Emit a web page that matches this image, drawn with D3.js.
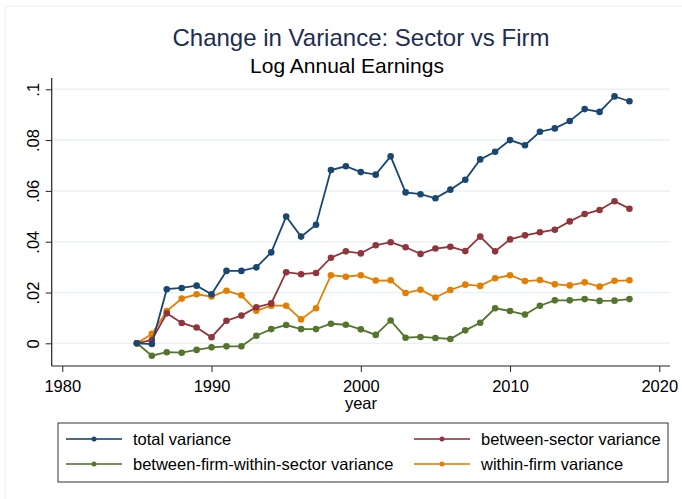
<!DOCTYPE html>
<html>
<head>
<meta charset="utf-8">
<script src="https://cdn.jsdelivr.net/npm/d3@7"></script>
<style>
  body { margin: 0; background: #fff; }
  svg { font-family: "Liberation Sans", Arial, Helvetica, sans-serif; }
</style>
</head>
<body>
<div id="chart"></div>
<script>
var years = d3.range(1985, 2019);

var totalVar = [0, -0.0003, 0.0213, 0.0218, 0.0227, 0.0193, 0.0285, 0.0285, 0.0299, 0.0358,
    0.0499, 0.0420, 0.0467, 0.0682, 0.0697, 0.0674, 0.0664, 0.0736, 0.0594, 0.0587,
    0.0571, 0.0605, 0.0644, 0.0724, 0.0754, 0.0800, 0.0780, 0.0833, 0.0846, 0.0875,
    0.0922, 0.0911, 0.0972, 0.0953];
var betweenSector = [0, 0.0013, 0.0118, 0.0080, 0.0062, 0.0024, 0.0089, 0.0109, 0.0142, 0.0157,
    0.0280, 0.0272, 0.0277, 0.0337, 0.0362, 0.0354, 0.0386, 0.0398, 0.0378, 0.0352,
    0.0373, 0.0380, 0.0363, 0.0420, 0.0362, 0.0409, 0.0425, 0.0437, 0.0447, 0.0480,
    0.0509, 0.0525, 0.0559, 0.0530];
var betweenFirm = [0, -0.0049, -0.0035, -0.0037, -0.0026, -0.0016, -0.0012, -0.0012, 0.0030, 0.0056,
    0.0072, 0.0056, 0.0056, 0.0077, 0.0073, 0.0055, 0.0033, 0.0090, 0.0022, 0.0025,
    0.0021, 0.0017, 0.0051, 0.0081, 0.0138, 0.0127, 0.0113, 0.0148, 0.0169, 0.0169,
    0.0174, 0.0167, 0.0168, 0.0174];
var withinFirm = [0, 0.0037, 0.0127, 0.0176, 0.0193, 0.0184, 0.0207, 0.0189, 0.0128, 0.0148,
    0.0148, 0.0094, 0.0138, 0.0268, 0.0262, 0.0268, 0.0247, 0.0248, 0.0198, 0.0211,
    0.0180, 0.0210, 0.0231, 0.0226, 0.0256, 0.0268, 0.0245, 0.0249, 0.0232, 0.0228,
    0.0240, 0.0223, 0.0246, 0.0248];

var seriesNames = ["total variance", "between-sector variance",
    "between-firm-within-sector variance", "within-firm variance"];
var seriesColors = ["#1a476f", "#90353b", "#55752f", "#e37e00"];
var xTicks = [1980, 1990, 2000, 2010, 2020];
var yTicks = [0, 0.02, 0.04, 0.06, 0.08, 0.1];

var W = 682, H = 499;
var svg = d3.select("#chart").append("svg")
    .attr("width", W)
    .attr("height", H);

// faint outer graph region frame
svg.append("rect")
    .attr("x", 5).attr("y", 6)
    .attr("width", 720).attr("height", 540)
    .attr("rx", 4)
    .attr("fill", "none")
    .attr("stroke", "#ececec");

var x = d3.scaleLinear().domain([1980, 2020]).range([62.3, 659.3]);
var y = d3.scaleLinear().domain([0, 0.1]).range([343.3, 89.3]);

var plotL = 51.7, plotR = 670, plotT = 78, plotB = 366;
var tickFont = "16.5px";

// gridlines
svg.append("g").selectAll("line")
    .data(yTicks)
    .enter().append("line")
    .attr("x1", plotL).attr("x2", plotR)
    .attr("y1", function(d) { return y(d); })
    .attr("y2", function(d) { return y(d); })
    .attr("stroke", "#eaf2f3")
    .attr("stroke-width", 1.5);

var fmt = function(d) { return d === 0 ? "0" : String(+d.toFixed(2)).replace(/^0/, ""); };

var yAxis = svg.append("g")
    .attr("transform", "translate(" + plotL + ",0)")
    .call(d3.axisLeft(y).tickValues(yTicks).tickFormat(fmt).tickSize(6));
yAxis.select(".domain").remove();
yAxis.selectAll(".tick line").attr("stroke", "#222");
yAxis.selectAll(".tick text")
    .attr("transform", "rotate(-90)")
    .attr("x", 0).attr("y", -13).attr("dy", 0)
    .attr("text-anchor", "middle")
    .style("font-size", tickFont)
    .attr("fill", "#000");
svg.append("line")
    .attr("x1", plotL).attr("x2", plotL)
    .attr("y1", plotT).attr("y2", plotB)
    .attr("stroke", "#222").attr("stroke-width", 1.2);

var xAxis = svg.append("g")
    .attr("transform", "translate(0," + plotB + ")")
    .call(d3.axisBottom(x).tickValues(xTicks).tickFormat(d3.format("d")).tickSize(6));
xAxis.select(".domain").remove();
xAxis.selectAll(".tick line").attr("stroke", "#222");
xAxis.selectAll(".tick text")
    .attr("y", 26).attr("dy", 0)
    .style("font-size", tickFont)
    .attr("fill", "#000");
svg.append("line")
    .attr("x1", plotL).attr("x2", plotR)
    .attr("y1", plotB).attr("y2", plotB)
    .attr("stroke", "#222").attr("stroke-width", 1.2);

svg.append("text")
    .attr("x", 361).attr("y", 409)
    .attr("text-anchor", "middle")
    .style("font-size", tickFont)
    .text("year");

// titles
svg.append("text")
    .attr("x", 361).attr("y", 46)
    .attr("text-anchor", "middle")
    .attr("fill", "#1e2d52")
    .style("font-size", "24px")
    .text("Change in Variance: Sector vs Firm");
svg.append("text")
    .attr("x", 347).attr("y", 73)
    .attr("text-anchor", "middle")
    .attr("fill", "#000")
    .style("font-size", "21px")
    .text("Log Annual Earnings");

// series
var allSeries = [totalVar, betweenSector, betweenFirm, withinFirm];
var line = d3.line()
    .x(function(d, i) { return x(years[i]); })
    .y(function(d) { return y(d); });

var drawOrder = [3, 2, 1, 0];
drawOrder.forEach(function(k) {
    var g = svg.append("g");
    g.append("path")
        .datum(allSeries[k])
        .attr("d", line)
        .attr("fill", "none")
        .attr("stroke", seriesColors[k])
        .attr("stroke-width", 1.8);
    g.selectAll("circle")
        .data(allSeries[k])
        .enter().append("circle")
        .attr("cx", function(d, i) { return x(years[i]); })
        .attr("cy", function(d) { return y(d); })
        .attr("r", 3.3)
        .attr("fill", seriesColors[k]);
});

// legend
var legend = svg.append("g");
legend.append("rect")
    .attr("x", 58).attr("y", 423)
    .attr("width", 610).attr("height", 59)
    .attr("fill", "#fff")
    .attr("stroke", "#333")
    .attr("stroke-width", 1);

var legendPos = [
    {lx: 66, ly: 439}, {lx: 414, ly: 439},
    {lx: 66, ly: 464}, {lx: 414, ly: 464}
];
legendPos.forEach(function(p, k) {
    legend.append("line")
        .attr("x1", p.lx).attr("x2", p.lx + 56)
        .attr("y1", p.ly).attr("y2", p.ly)
        .attr("stroke", seriesColors[k])
        .attr("stroke-width", 1.8)
        .attr("opacity", 0.8);
    legend.append("circle")
        .attr("cx", p.lx + 28).attr("cy", p.ly)
        .attr("r", 2.5)
        .attr("fill", seriesColors[k]);
    legend.append("text")
        .attr("x", p.lx + 67).attr("y", p.ly)
        .attr("dy", "0.35em")
        .style("font-size", tickFont)
        .text(seriesNames[k]);
});
</script>
</body>
</html>
